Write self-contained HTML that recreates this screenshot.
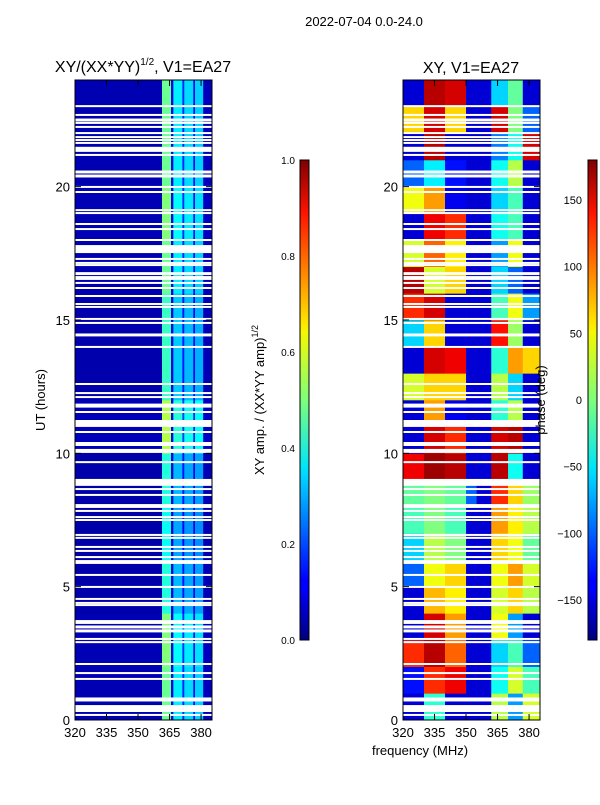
<!DOCTYPE html>
<html><head><meta charset="utf-8"><style>
body{margin:0;background:#fff;width:600px;height:800px;overflow:hidden}
svg{font-family:"Liberation Sans",sans-serif}
</style></head><body>
<svg id="s" width="600" height="800">
<defs>
<linearGradient id="jet" x1="0" y1="1" x2="0" y2="0">
<stop offset="0" stop-color="#00007f"/><stop offset="0.11" stop-color="#0000ff"/><stop offset="0.125" stop-color="#0000ff"/>
<stop offset="0.34" stop-color="#00d4ff"/><stop offset="0.36" stop-color="#00e5f7"/><stop offset="0.5" stop-color="#7dff7a"/>
<stop offset="0.64" stop-color="#f4f802"/><stop offset="0.66" stop-color="#ffe600"/><stop offset="0.89" stop-color="#ff1300"/><stop offset="1" stop-color="#7f0000"/>
</linearGradient></defs>
<text x="364" y="26" text-anchor="middle" font-size="13">2022-07-04 0.0-24.0</text>
<text x="143" y="72" text-anchor="middle" font-size="16">XY/(XX*YY)<tspan font-size="10" dy="-7">1/2</tspan><tspan dy="7">, V1=EA27</tspan></text>
<text x="471" y="73" text-anchor="middle" font-size="16">XY, V1=EA27</text>
<g id="L"></g><g id="R"></g><g id="ax"></g>
<text x="420" y="755" text-anchor="middle" font-size="13">frequency (MHz)</text>
<text transform="translate(45,400) rotate(-90)" text-anchor="middle" font-size="13">UT (hours)</text>
<rect x="300" y="160" width="9" height="480" fill="url(#jet)" stroke="#000" stroke-width="1"/>
<rect x="588" y="160" width="9" height="480" fill="url(#jet)" stroke="#000" stroke-width="1"/>
<text transform="translate(264,400) rotate(-90)" text-anchor="middle" font-size="13">XY amp. / (XX*YY amp)<tspan font-size="9" dy="-6">1/2</tspan></text>
<text transform="translate(545,400) rotate(-90)" text-anchor="middle" font-size="13">phase (deg)</text>
</svg>
<script>
const ampTicks=[0,0.2,0.4,0.6,0.8,1.0];
const phaseTicks=[-150,-100,-50,0,50,100,150];
const xTicks=[320,335,350,365,380];
const yTicks=[0,5,10,15,20];
const leftFreqEdges=[320,361.4,365.7,366.8,371.1,372,376.3,377.1,381,385.2];
const leftBandVals=[0.05,0.48,0.1,0.36,0.16,0.34,0.13,0.33,0.06];
const leftRowScale=[1.0,1.05,0.85,0.8,0.85,1.15,0.9,0.9,1.0,1.05,1.0,1.0];
const rightFreqEdges=[320,330,340,350,355,362,370,377,385.2];
const phase=[
[-150,-30,-150,-150,-150,20,-80,30],
[-130,120,140,-150,-150,-40,30,-20],
[120,160,100,-150,-150,-60,-20,-100],
[-150,150,80,-150,-150,40,-80,-150],
[-150,70,50,-150,-150,30,60,20],
[-100,40,60,-150,-150,40,80,30],
[-60,20,0,-150,-150,60,40,-10],
[-20,0,-20,-150,-150,80,50,20],
[-10,0,-10,-100,-150,120,60,10],
[140,170,160,-150,-150,160,-40,-150],
[-150,150,120,-150,-150,150,160,-150],
[-150,80,-140,-150,-150,-30,20,-150],
[30,60,60,-150,-150,20,-60,-150],
[-150,150,140,-150,-150,-30,80,60],
[-60,60,-150,-150,-150,130,10,-150],
[120,150,-150,-150,-150,-20,40,-80],
[160,30,60,-150,-150,-60,-100,-150],
[30,100,50,-150,-150,-80,40,-150],
[-150,140,120,-150,-150,-40,-20,-150],
[40,80,-140,-150,-150,-60,-20,-150],
[-100,-50,-130,-150,-150,-40,20,-150],
[-150,160,-150,-150,-150,-90,-40,150],
[60,150,60,-150,-150,150,0,-100],
[-150,160,150,-150,-150,-60,-10,-150]];
const gapUT=[23.02,22.69,22.5,22.39,22.24,22.01,21.86,21.75,21.64,21.4,21.19,20.55,20.4,19.99,19.8,19.12,19.01,18.6,18.41,18.0,17.66,17.29,17.14,17.06,16.74,16.61,16.54,16.39,16.2,15.9,15.6,15.49,15.04,14.89,14.44,13.99,12.6,12.26,12.11,11.79,11.55,11.12,10.8,10.35,10.09,9.67,8.91,8.66,8.44,8.06,7.99,7.84,7.61,7.5,6.94,6.83,6.49,6.34,6.11,5.96,5.89,5.44,4.99,4.54,4.39,4.31,3.71,3.64,3.49,3.34,3.04,2.92,2.1,1.76,1.54,0.77,0.43,0.19];
const gapLen=[.075,.075,.11,.075,.075,.075,.075,.075,.075,.19,.075,.11,.11,.075,.075,.075,.075,.075,.075,.075,.3,.075,.075,.075,.11,.075,.075,.075,.075,.075,.075,.075,.075,.075,.11,.075,.075,.075,.075,.15,.075,.26,.075,.15,.15,.075,.26,.075,.075,.075,.075,.075,.075,.075,.075,.075,.075,.075,.075,.075,.075,.075,.075,.075,.075,.075,.075,.075,.11,.11,.075,.075,.075,.075,.075,.15,.26,.075];
const NS='http://www.w3.org/2000/svg';
function mk(t,a,p){const e=document.createElementNS(NS,t);for(const k in a)e.setAttribute(k,a[k]);p.appendChild(e);return e;}
function jet(v){v=Math.max(0,Math.min(1,v));
const r=Math.max(0,Math.min(1,1.5-Math.abs(4*v-3))),g=Math.max(0,Math.min(1,1.5-Math.abs(4*v-2))),b=Math.max(0,Math.min(1,1.5-Math.abs(4*v-1)));
return `rgb(${Math.round(r*255)},${Math.round(g*255)},${Math.round(b*255)})`;}
const panels=[{x0:75},{x0:403}];
const fx=(x0,f)=>x0+(f-320)*137/65.2;
const yU=u=>720-u*640/24;
const LG=document.getElementById('L');
leftRowScale.forEach((s,ri)=>{leftBandVals.forEach((v,ci)=>{
 const x1=fx(75,leftFreqEdges[ci]),x2=fx(75,leftFreqEdges[ci+1]);
 const y1=yU((ri+1)*2),y2=yU(ri*2);
 const r=mk('rect',{x:x1,y:y1,width:x2-x1+0.3,height:y2-y1+0.3,fill:jet(v*s)},LG);
 
 
});});
const RG=document.getElementById('R');
phase.forEach((row,ri)=>{row.forEach((p,ci)=>{
 const x1=fx(403,rightFreqEdges[ci]),x2=fx(403,rightFreqEdges[ci+1]);
 const y1=yU(ri+1),y2=yU(ri);
 const r=mk('rect',{x:x1,y:y1,width:x2-x1+0.3,height:y2-y1+0.3,fill:jet((p+180)/360)},RG);
 
 
});});
const AX=document.getElementById('ax');
panels.forEach(P=>{
 gapUT.forEach((u,i)=>{
  const r=mk('rect',{x:P.x0,y:yU(u+gapLen[i]/2),width:137,height:gapLen[i]*640/24,fill:'#fff'},AX);
  
  
 });
 const fr=mk('rect',{x:P.x0,y:80,width:137,height:640,fill:'none',stroke:'#000','stroke-width':1},AX);
 
 
 xTicks.forEach(t=>{const x=fx(P.x0,t);
  mk('line',{x1:x,x2:x,y1:720,y2:714,stroke:'#000'},AX);mk('line',{x1:x,x2:x,y1:80,y2:86,stroke:'#000'},AX);
  const tx=mk('text',{x:x,y:737,'text-anchor':'middle','font-size':13},AX);tx.textContent=t;
  
  });
 yTicks.forEach(t=>{const y=yU(t);
  mk('line',{x1:P.x0,x2:P.x0+6,y1:y,y2:y,stroke:'#000'},AX);mk('line',{x1:P.x0+137,x2:P.x0+131,y1:y,y2:y,stroke:'#000'},AX);
  const tx=mk('text',{x:P.x0-5,y:y+5,'text-anchor':'end','font-size':13},AX);tx.textContent=t;
  
  });
});
ampTicks.forEach(t=>{const y=640-t*480;
 mk('line',{x1:300,x2:304,y1:y,y2:y,stroke:'#000'},AX);mk('line',{x1:309,x2:305,y1:y,y2:y,stroke:'#000'},AX);
 const tx=mk('text',{x:295,y:y+4,'text-anchor':'end','font-size':10},AX);tx.textContent=t.toFixed(1);
 
 });
phaseTicks.forEach(t=>{const y=400-t*480/360;
 mk('line',{x1:588,x2:592,y1:y,y2:y,stroke:'#000'},AX);mk('line',{x1:597,x2:593,y1:y,y2:y,stroke:'#000'},AX);
 const tx=mk('text',{x:582,y:y+4,'text-anchor':'end','font-size':11},AX);tx.textContent=t<0?'\u2212'+(-t):t;
 
 });
</script>
</body></html>
